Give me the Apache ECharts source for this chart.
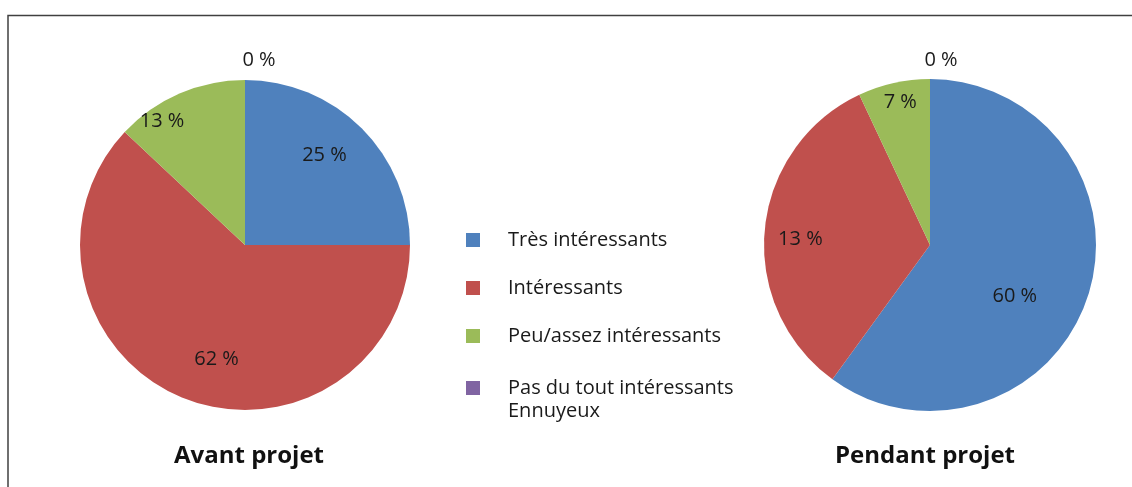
<!DOCTYPE html>
<html>
<head>
<meta charset="utf-8">
<script src="https://cdn.jsdelivr.net/npm/echarts@6/dist/echarts.min.js"></script>
<style>
  html, body { margin: 0; padding: 0; background: #fff; }
  #chart { width: 1132px; height: 487px; }
</style>
</head>
<body>
<div id="chart"></div>
<script>
// categories (légende)
var categories = [
  "Très intéressants",
  "Intéressants",
  "Peu/assez intéressants",
  "Pas du tout intéressants\nEnnuyeux"
];
// Avant projet : % affichés = parts
var avantValues = [25, 62, 13, 0];
// Pendant projet : parts
var pendantValues = [60, 33, 7, 0];
// étiquettes telles qu'écrites sur le graphique
var pendantLabels = [60, 13, 7, 0];
var titles = ["Avant projet", "Pendant projet"];

var colors = ["#4F81BD", "#C0504D", "#9BBB59", "#8064A2"];
var font = "'Open Sans', sans-serif";

// décalage des étiquettes (style seulement)
var avantOffsets = [[19, -29], [3, 35], [-49, -45], [14, -99]];
var pendantOffsets = [[3, 25], [-44, 2], [-11, -59], [11, -99]];

function makeData(values, labels, offsets) {
  return values.map(function (v, i) {
    return {
      name: categories[i],
      value: v,
      label: { offset: offsets[i], formatter: labels[i] + " %" }
    };
  });
}

var legendText = { fontFamily: font, fontSize: 20, color: "#1a1a1a", lineHeight: 23, padding: [0, 0, 0, 23] };

var myChart = echarts.init(document.getElementById("chart"));
myChart.setOption({
  animation: false,
  color: colors,
  title: [
    {
      text: titles[0],
      left: 244, top: 439, textAlign: "center",
      textStyle: { fontFamily: font, fontSize: 24, fontWeight: "bold", color: "#111" }
    },
    {
      text: titles[1],
      left: 920, top: 439, textAlign: "center",
      textStyle: { fontFamily: font, fontSize: 24, fontWeight: "bold", color: "#111" }
    }
  ],
  legend: [
    {
      data: categories.slice(0, 3),
      orient: "vertical",
      left: 466, top: 228.5,
      padding: 0,
      itemGap: 25,
      itemWidth: 14, itemHeight: 14,
      icon: "rect",
      selectedMode: false,
      textStyle: legendText
    },
    {
      // carré aligné sur la première ligne du texte
      data: categories.slice(3),
      orient: "vertical",
      left: 466, top: 376.5,
      padding: 0,
      itemWidth: 14, itemHeight: 46,
      icon: "path://M0,0L0,0M0,4.5L14,4.5L14,18.5L0,18.5ZM0,46L0,46",
      selectedMode: false,
      textStyle: legendText
    }
  ],
  graphic: [
    {
      type: "polyline",
      shape: { points: [[8, 487], [8, 15.5], [1132, 15.5]] },
      style: { stroke: "#404040", lineWidth: 1.5, fill: null }
    }
  ],
  series: [
    {
      name: titles[0],
      type: "pie",
      center: [245, 245],
      radius: [0, 165],
      startAngle: 90,
      clockwise: true,
      avoidLabelOverlap: false,
      itemStyle: { borderWidth: 0 },
      label: {
        show: true, position: "inside",
        fontFamily: font, fontSize: 20, color: "#1a1a1a"
      },
      labelLine: { show: false },
      emphasis: { disabled: true },
      data: makeData(avantValues, avantValues, avantOffsets)
    },
    {
      name: titles[1],
      type: "pie",
      center: [930, 245],
      radius: [0, 166],
      startAngle: 90,
      clockwise: true,
      avoidLabelOverlap: false,
      itemStyle: { borderWidth: 0 },
      label: {
        show: true, position: "inside",
        fontFamily: font, fontSize: 20, color: "#1a1a1a"
      },
      labelLine: { show: false },
      emphasis: { disabled: true },
      data: makeData(pendantValues, pendantLabels, pendantOffsets)
    }
  ]
});
</script>
</body>
</html>
